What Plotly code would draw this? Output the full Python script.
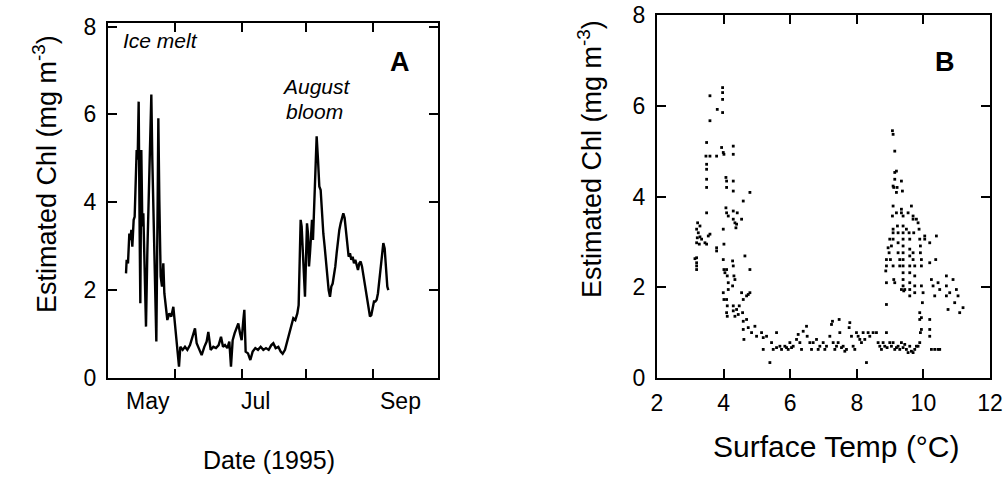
import plotly.graph_objects as go

# ---------------- Panel A: estimated Chl time series (day of year, 1995) ----------------
day_a = [98.35, 98.65, 99.27, 99.89, 100.35, 100.82, 101.28, 101.9, 102.36, 102.83, 103.29, 103.75,
         104.22, 104.68, 104.99, 105.45, 105.92, 106.38, 107.0, 107.62, 108.23, 108.85, 109.47, 110.09,
         110.55, 111.02, 111.63, 112.41, 113.03, 113.34, 113.8, 114.42, 115.04, 115.65, 116.12, 116.89,
         117.51, 118.43, 119.36, 120.29, 120.91, 121.52, 122.3, 122.92, 123.53, 124.62, 125.7, 126.78,
         128.02, 129.25, 130.33, 131.11, 132.19, 133.42, 134.66, 135.74, 136.51, 137.6, 138.83, 140.07,
         141.31, 142.39, 143.32, 144.24, 145.32, 146.25, 147.02, 147.8, 148.72, 149.65, 150.42, 151.2,
         151.97, 152.74, 153.21, 153.82, 154.91, 155.99, 157.07, 158.31, 159.54, 160.78, 162.01, 163.25,
         164.49, 165.72, 166.65, 167.73, 168.97, 170.05, 170.98, 172.06, 173.14, 174.07, 175.0, 175.92,
         176.85, 177.78, 178.39, 178.86, 179.32, 179.78, 180.25, 180.71, 181.33, 181.79, 182.26, 182.72,
         183.19, 183.65, 184.11, 184.58, 185.04, 185.5, 186.12, 186.74, 187.36, 187.98, 188.59, 189.21,
         189.83, 190.45, 191.06, 191.68, 192.3, 192.92, 193.54, 194.16, 194.77, 195.39, 196.01, 196.63,
         197.25, 197.87, 198.48, 199.1, 199.72, 200.34, 200.96, 201.58, 202.19, 202.81, 203.43, 204.05,
         204.66, 205.28, 205.9, 206.52, 207.14, 207.76, 208.37, 208.99, 209.61, 210.23, 210.85, 211.46,
         212.08, 212.7, 213.32, 213.94, 214.56, 215.17, 215.79, 216.41, 217.03, 217.65, 218.27, 218.88,
         219.5, 219.97]
chl_a = [2.38, 2.69, 2.61, 3.29, 3.14, 3.37, 2.99, 3.60, 3.67, 4.36, 5.19, 4.97,
         6.29, 3.29, 1.70, 5.19, 3.45, 3.75, 2.38, 1.17, 2.84, 4.21, 5.27, 6.45,
         4.97, 3.90, 2.15, 0.83, 4.05, 5.91, 4.05, 2.31, 2.08, 2.61, 1.93, 1.62,
         1.32, 1.47, 1.40, 1.62, 1.32, 1.02, 0.71, 0.26, 0.71, 0.64, 0.71, 0.64,
         0.75, 0.94, 1.13, 0.79, 0.64, 0.52, 0.71, 0.83, 1.05, 0.64, 0.71, 0.68,
         0.75, 0.94, 0.71, 0.75, 0.68, 0.83, 0.26, 0.86, 1.02, 1.17, 1.24, 1.02,
         0.86, 1.32, 1.55, 0.60, 0.56, 0.41, 0.60, 0.68, 0.64, 0.71, 0.64, 0.68,
         0.64, 0.75, 0.79, 0.68, 0.71, 0.60, 0.55, 0.64, 0.86, 1.05, 1.21, 1.36,
         1.32, 1.47, 1.66, 2.38, 3.60, 3.45, 2.99, 2.46, 1.85, 2.69, 3.52, 3.29,
         2.54, 2.84, 3.14, 3.60, 3.14, 3.75, 4.36, 5.50, 4.97, 4.36, 4.28, 3.75,
         3.29, 2.99, 2.61, 2.23, 2.00, 1.85, 2.08, 2.15, 2.31, 2.54, 2.84, 3.14,
         3.37, 3.52, 3.64, 3.75, 3.64, 3.29, 2.99, 2.76, 2.84, 2.69, 2.76, 2.61,
         2.69, 2.54, 2.46, 2.61, 2.65, 2.54, 2.35, 2.23, 2.00, 1.78, 1.55, 1.40,
         1.43, 1.59, 1.74, 1.74, 1.78, 1.93, 2.23, 2.61, 2.91, 3.07, 2.95, 2.38,
         2.08, 2.00]
a_tick_days = [121, 152, 182, 213]
a_label_days = [108.5, 158.2, 225.4]
a_labels = ["May", "Jul", "Sep"]

# ---------------- Panel B: Chl vs surface temperature ----------------
temp_b = [3.19, 3.19, 3.19, 3.19, 3.14,
          3.19, 3.24, 3.21, 3.29, 3.27, 3.19, 3.34, 3.22, 3.29,
          3.44, 3.49, 3.54, 3.59,
          3.49, 3.49, 3.49, 3.49, 3.49, 3.47, 3.49,
          3.59, 3.59, 3.59,
          3.79, 3.81, 3.79, 3.79,
          3.97, 3.97, 3.97, 3.97, 3.94, 3.99, 4.01, 3.99, 4.01, 3.99, 4.01, 4.04, 3.99, 4.01,
          4.07, 4.09, 4.09, 4.07, 4.09, 4.14, 4.09, 4.11, 4.14, 4.14, 4.09, 4.11, 4.09, 4.11,
          4.29, 4.29, 4.29, 4.29, 4.29, 4.29, 4.27, 4.29, 4.31, 4.34, 4.27,
          4.34, 4.39, 4.37, 4.41,
          4.29, 4.29, 4.34, 4.39, 4.44, 4.47,
          4.54, 4.54, 4.59, 4.57, 4.59,
          4.59, 4.64, 4.69, 4.74, 4.79,
          4.79, 4.79,
          4.69, 4.74, 4.59, 4.61, 4.84, 4.94, 4.99,
          5.14, 5.19, 5.19, 5.29, 5.39, 5.44, 5.49, 5.59, 5.59, 5.69, 5.74, 5.84, 5.89, 5.94, 5.99,
          6.04, 6.09, 6.19, 6.24, 6.29, 6.34, 6.39, 6.49, 6.51, 6.59, 6.64, 6.69, 6.79, 6.84, 6.89,
          6.99, 7.04, 7.09, 7.19, 7.24, 7.27, 7.29, 7.34, 7.39, 7.44, 7.47, 7.49, 7.54, 7.59, 7.64,
          7.69, 7.77, 7.79, 7.84, 7.89, 7.94, 7.99, 8.04, 8.09, 8.14, 8.19, 8.24, 8.29, 8.34, 8.39,
          8.49, 8.59, 8.64, 8.69, 8.74, 8.79, 8.84, 8.89, 8.91, 8.99, 9.04, 9.09, 9.14, 9.19, 9.24,
          9.29, 9.34, 9.39, 9.44, 9.49, 9.54, 9.59, 9.64, 9.69, 9.74, 9.79, 9.84, 9.89, 9.91, 9.94,
          9.89, 9.89, 9.94, 9.97, 10.19, 10.19, 10.19, 10.24, 10.34, 10.44, 10.49,
          8.89, 8.89, 8.87, 8.89, 8.89, 8.94, 8.97, 8.99, 9.01, 9.04, 9.07, 9.09, 9.09, 9.09, 9.09,
          9.09, 9.11, 9.14, 9.07, 9.09, 9.14, 9.14, 9.09, 9.11, 9.14, 9.19, 9.21, 9.19, 9.19, 9.22,
          9.24, 9.24, 9.24, 9.29, 9.29, 9.34, 9.37, 9.34, 9.34, 9.39, 9.39, 9.39, 9.39, 9.39, 9.39,
          9.39, 9.39, 9.39, 9.39, 9.39, 9.41, 9.34, 9.44, 9.49, 9.54, 9.57, 9.59, 9.59, 9.59, 9.59,
          9.59, 9.59, 9.59, 9.59, 9.64, 9.69, 9.69, 9.71, 9.69, 9.69, 9.74, 9.74, 9.74, 9.74, 9.79,
          9.84, 9.87, 9.89, 9.91, 9.91, 9.94, 9.94, 9.94, 9.99, 10.04, 10.04, 10.19, 10.19, 10.24,
          10.29, 10.34, 10.37, 10.39, 10.44, 10.49, 10.69, 10.69, 10.69, 10.74, 10.79, 10.89, 10.94,
          10.99, 11.04, 11.09, 11.19]
chl_b = [2.65, 2.54, 2.47, 2.39, 2.63,
         3.28, 3.20, 3.09, 3.11, 2.95, 2.98, 3.06, 3.42, 3.35,
         2.98, 2.95, 3.13, 3.17,
         3.64, 4.20, 4.38, 4.60, 4.71, 4.89, 5.19,
         4.89, 5.67, 6.22,
         4.89, 5.92, 2.87, 2.80,
         6.40, 6.29, 6.14, 5.85, 5.08, 4.97, 4.93, 3.28, 2.95, 2.61, 2.39, 2.32, 1.88, 1.73,
         4.42, 4.34, 4.20, 3.75, 3.64, 3.57, 2.39, 2.25, 2.10, 1.95, 1.73, 1.59, 1.44, 1.36,
         5.11, 4.93, 4.34, 4.12, 3.68, 3.50, 2.58, 2.47, 2.25, 2.17, 2.03,
         3.42, 3.39, 3.31, 3.64,
         1.59, 1.48, 1.36, 1.51, 1.40, 1.59,
         3.50, 1.88, 1.73, 1.44, 1.25,
         3.90, 2.69, 1.81, 1.84, 1.88,
         4.09, 2.39,
         1.29, 1.11, 1.07, 0.85, 1.00, 1.14, 0.92,
         1.00, 0.89, 0.63, 0.92, 0.34, 0.78, 0.63, 1.00, 0.67, 0.70, 0.63, 0.70, 0.67, 0.63, 0.78,
         0.67, 0.70, 0.85, 0.96, 0.78, 0.63, 1.03, 1.14, 0.92, 0.78, 0.63, 0.78, 0.85, 0.63, 0.70,
         0.78, 0.63, 0.70, 0.92, 1.18, 1.25, 0.78, 0.63, 0.70, 0.78, 1.29, 1.00, 0.67, 0.70, 0.59,
         0.63, 1.11, 1.22, 0.92, 0.70, 0.63, 1.00, 0.92, 0.85, 0.78, 1.00, 0.85, 0.34, 1.00, 0.92,
         1.00, 1.00, 0.78, 0.70, 0.63, 0.78, 0.70, 1.00, 0.67, 0.78, 0.70, 0.78, 0.63, 0.67, 0.70,
         0.63, 0.78, 0.67, 0.74, 0.63, 0.56, 0.70, 0.59, 0.56, 0.63, 0.70, 0.70, 0.78, 1.00, 1.07,
         1.44, 1.29, 1.33, 1.66, 1.29, 1.07, 0.92, 0.63, 0.63, 0.63, 0.63,
         2.61, 2.47, 2.36, 2.10, 1.62, 2.87, 2.76, 3.06, 2.61, 2.91, 3.57, 3.79, 3.28, 3.20, 3.06,
         2.47, 2.17, 2.10, 5.45, 5.37, 5.00, 4.38, 4.23, 4.20, 4.53, 4.56, 4.20, 4.09, 3.64, 3.35,
         3.20, 2.98, 2.76, 2.61, 2.47, 4.34, 4.12, 3.72, 3.64, 3.57, 3.35, 3.20, 3.06, 2.91, 2.76,
         2.61, 2.47, 2.32, 2.17, 2.03, 1.92, 1.95, 1.95, 3.28, 3.64, 3.20, 3.06, 2.84, 2.69, 2.47,
         2.32, 2.10, 1.95, 1.81, 3.79, 3.57, 3.50, 3.20, 2.76, 2.61, 2.47, 2.25, 2.03, 1.88, 3.50,
         3.42, 3.28, 3.06, 2.91, 2.76, 2.61, 2.47, 2.03, 1.88, 3.06, 3.13, 2.98, 2.54, 2.17,
         2.03, 1.81, 2.61, 3.13, 2.10, 1.95, 2.25, 2.03, 1.81, 1.51, 1.88, 2.17, 1.66,
         1.95, 1.81, 1.44, 1.55]
b_ticks = [2, 4, 6, 8, 10, 12]
y_ticks = [0, 2, 4, 6, 8]

FONT = "Liberation Sans, Arial, Helvetica, sans-serif"
W, H = 1003, 476


def px_x(x):
    return x / W


def px_y(y):
    return 1 - y / H


fig = go.Figure()
fig.add_trace(go.Scatter(x=day_a, y=chl_a, mode="lines", xaxis="x", yaxis="y",
                         line=dict(color="black", width=2.4), showlegend=False))
fig.add_trace(go.Scatter(x=temp_b, y=chl_b, mode="markers", xaxis="x2", yaxis="y2",
                         marker=dict(color="black", size=2.8, symbol="square", line=dict(width=0)),
                         showlegend=False))

TICKFONT = dict(family=FONT, size=23, color="black")
axis_common = dict(showline=True, linecolor="black", linewidth=2, mirror="ticks",
                   ticks="inside", ticklen=9, tickwidth=1.5, tickcolor="black",
                   showgrid=False, zeroline=False, tickfont=TICKFONT)

fig.update_layout(
    width=W, height=H, margin=dict(l=0, r=0, t=0, b=0, autoexpand=False),
    paper_bgcolor="white", plot_bgcolor="white",
    xaxis=dict(domain=[px_x(108), px_x(438)], range=[90, 243], tickvals=a_tick_days,
               showticklabels=False, anchor="y", **axis_common),
    yaxis=dict(domain=[px_y(378), px_y(23)], range=[0, 8.08], tickvals=y_ticks, anchor="x",
               ticklabelstandoff=5, **axis_common),
    xaxis2=dict(domain=[px_x(657), px_x(990)], range=[2, 12], tickvals=b_ticks, anchor="y2",
                ticklabelstandoff=3, **axis_common),
    yaxis2=dict(domain=[px_y(378), px_y(15)], range=[0, 8], tickvals=y_ticks, anchor="x2",
                ticklabelstandoff=5, **axis_common),
)


def txt(x, y, text, size, angle=0, xref="paper"):
    return dict(x=x if xref != "paper" else px_x(x), y=px_y(y), xref=xref, yref="paper", text=text,
                showarrow=False, textangle=angle, font=dict(family=FONT, size=size, color="black"),
                xanchor="center", yanchor="middle")


ann = [txt(d, 401, t, 23, xref="x") for d, t in zip(a_label_days, a_labels)]
ann += [
    txt(269, 460, "Date (1995)", 25),
    txt(836, 446, "Surface Temp (°C)", 30),
    txt(45, 174, "Estimated Chl (mg m<sup>-3</sup>)", 27, angle=-90),
    txt(590, 159, "Estimated Chl (mg m<sup>-3</sup>)", 27, angle=-90),
    txt(160, 40, "<i>Ice melt</i>", 21),
    txt(316, 86, "<i>August</i>", 21),
    txt(314, 111, "<i>bloom</i>", 21),
    txt(400, 62, "<b>A</b>", 27),
    txt(945, 62, "<b>B</b>", 27),
]
fig.update_layout(annotations=ann)

fig.write_html("out.html")
